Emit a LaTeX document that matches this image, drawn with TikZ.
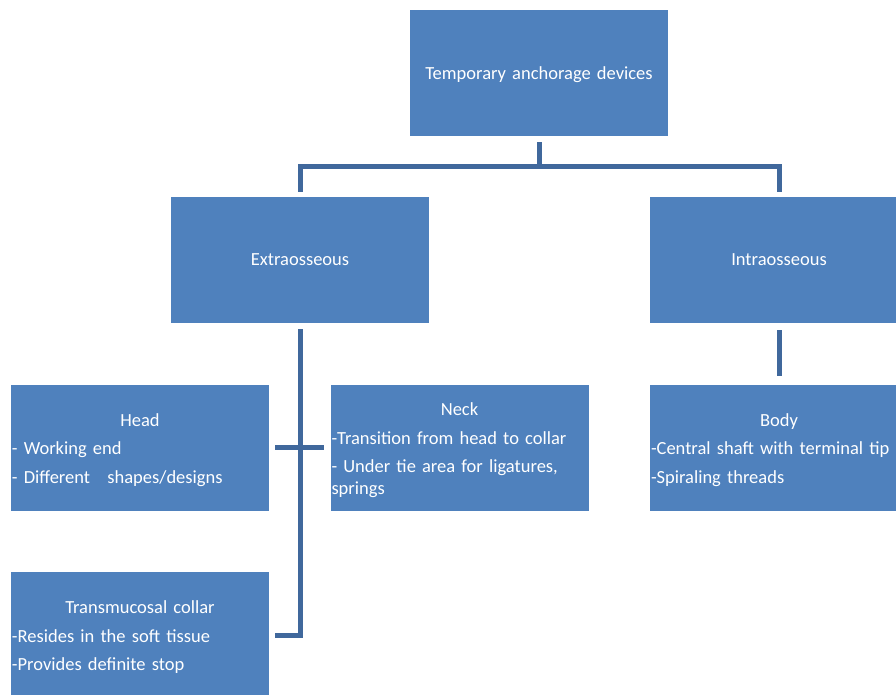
\documentclass[tikz,border=0pt]{standalone}
\usepackage{fontspec}
\setmainfont[WordSpace=0.6]{Carlito}
\definecolor{boxblue}{RGB}{79,129,189}
\definecolor{lineblue}{RGB}{64,104,156}

\begin{document}
\begin{tikzpicture}[x=1pt,y=-1pt]
    \useasboundingbox (0,0) rectangle (896,694);
    \clip (0,0) rectangle (896,694);
    \begin{scope}
      [box/.style={rectangle,fill=boxblue,text=white,inner xsep=1pt,inner ysep=0pt,
        text width=256pt,minimum height=126pt,font=\fontsize{18.5}{21.5}\selectfont},
      plain/.style={box,align=center,execute at begin node={\vspace*{-4pt}}},
      items/.style={box,align=left,execute at begin node={\setlength{\parskip}{7pt}},
        execute at end node={\vspace*{-5pt}}},
      conn/.style={draw=lineblue,line width=5pt}]
      \node[plain] (tad) at (539,73) {Temporary anchorage devices};
      \node[plain] (extra) at (300,260) {Extraosseous};
      \node[plain] (intra) at (779,260) {Intraosseous};
      \node[items] (head) at (140,447.5) {{\centering Head\par}- Working end\par- Different\hspace{0.6em} shapes/designs};
      \node[items] (neck) at (459.5,447.5) {{\centering Neck\par}-Transition from head to collar\par- Under tie area for ligatures,\newline springs};
      \node[items] (body) at (779,447.5) {{\centering Body\par}-Central shaft with terminal tip\par-Spiraling threads};
      \node[items] (collar) at (140,635) {{\centering Transmucosal collar\par}-Resides in the soft tissue\par-Provides definite stop};
      \coordinate (bar) at (539,166.5);
      \draw[conn] ([yshift=-6pt]tad.south) -- (bar);
      \draw[conn] ([yshift=5pt]extra.north) |- (bar) -| ([yshift=5pt]intra.north);
      \draw[conn] ([yshift=-6pt]extra.south) |- ([xshift=6pt]collar.east);
      \draw[conn] ([xshift=6pt]head.east) -- ([xshift=-6pt]neck.west);
      \draw[conn] ([yshift=-7pt]intra.south) -- ([yshift=8pt]body.north);
    \end{scope}
\end{tikzpicture}
\end{document}
